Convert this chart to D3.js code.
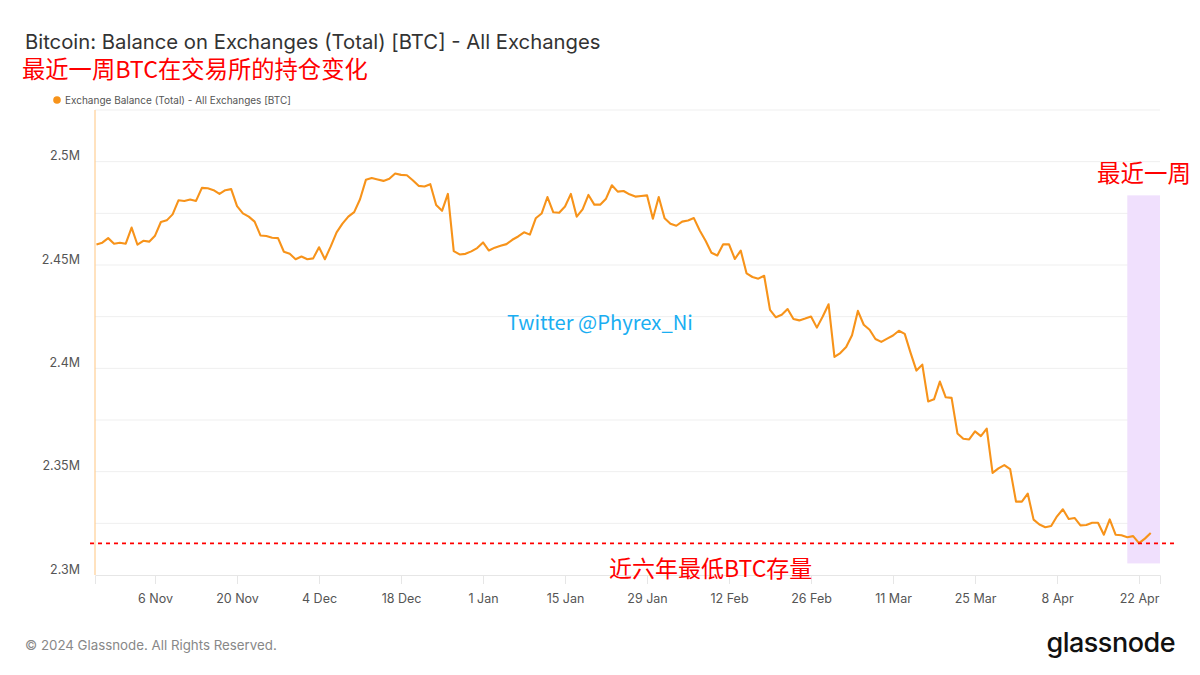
<!DOCTYPE html>
<html>
<head>
<meta charset="utf-8">
<script src="https://cdn.jsdelivr.net/npm/d3@7"></script>
<style>
  html, body { margin: 0; padding: 0; background: #fff; }
  svg { display: block; }
</style>
</head>
<body>
<svg id="chart" width="1200" height="675"></svg>
<script>
// ---------------- DATA ----------------
const START_DATE = "2023-10-27";           // first daily point
const END_DOMAIN = "2024-04-25T14:00:00Z"; // right edge of the time axis
const START_DOMAIN = "2023-10-26T18:00:00Z";
// Exchange balance (BTC), one value per day from START_DATE
const balance = [
  2459900, 2460800, 2463000, 2460300, 2460800, 2460300, 2468100, 2459800, 2461700, 2461300,
  2464200, 2470800, 2471600, 2474500, 2481300, 2481000, 2481700, 2481000, 2487300, 2487100,
  2486200, 2484400, 2486200, 2486700, 2478500, 2475000, 2473400, 2471000, 2464300, 2464000,
  2463200, 2463000, 2456400, 2455400, 2452800, 2454100, 2452800, 2453200, 2458600, 2452800,
  2459000, 2465800, 2470000, 2473400, 2475600, 2481800, 2491200, 2492100, 2491400, 2490700,
  2491700, 2494300, 2493600, 2493400, 2491000, 2488300, 2488000, 2489100, 2479000, 2476200,
  2484400, 2456700, 2455100, 2455400, 2456600, 2458200, 2460900, 2457000, 2458400, 2459300,
  2460100, 2462200, 2463800, 2465800, 2464700, 2472600, 2474900, 2482900, 2475500, 2475300,
  2478300, 2484400, 2473400, 2476900, 2483900, 2479200, 2479200, 2482100, 2488600, 2485500,
  2485800, 2484200, 2483100, 2483400, 2483700, 2472400, 2482900, 2472600, 2470000, 2469000,
  2471000, 2471500, 2472700, 2466700, 2461700, 2455900, 2454600, 2460000, 2460000, 2452900,
  2457000, 2445900, 2444200, 2443400, 2444800, 2428300, 2424700, 2425900, 2428700, 2423900,
  2423200, 2424100, 2425100, 2419700, 2425100, 2431000, 2405500, 2407400, 2410300, 2416000,
  2427800, 2421100, 2418700, 2414200, 2412800, 2414400, 2415900, 2418200, 2416700, 2407500,
  2398900, 2401800, 2384000, 2385000, 2393600, 2386000, 2385700, 2368500, 2365900, 2365600,
  2369500, 2367200, 2370800, 2349400, 2351600, 2353200, 2351200, 2335500, 2335500, 2339400,
  2326800, 2324400, 2323100, 2323700, 2328400, 2331800, 2327100, 2327600, 2324000, 2324200,
  2325300, 2325300, 2319500, 2326900, 2319500, 2319200, 2318300, 2318800, 2315400, 2317600,
  2320300
];
const xTickDates  = ["2023-11-06","2023-11-20","2023-12-04","2023-12-18","2024-01-01","2024-01-15",
                     "2024-01-29","2024-02-12","2024-02-26","2024-03-11","2024-03-25","2024-04-08","2024-04-22"];
const xTickLabels = ["6 Nov","20 Nov","4 Dec","18 Dec","1 Jan","15 Jan","29 Jan","12 Feb","26 Feb","11 Mar","25 Mar","8 Apr","22 Apr"];
const yTickValues = [2300000, 2350000, 2400000, 2450000, 2500000];
const yTickLabels = ["2.3M", "2.35M", "2.4M", "2.45M", "2.5M"];
const yGridValues = [2325000, 2350000, 2375000, 2400000, 2425000, 2450000, 2475000, 2500000, 2525000];
const Y_DOMAIN = [2300000, 2525000];
const LOW_LINE = 2315300;                          // "lowest in six years" level
const HIGHLIGHT = { start: "2024-04-20", end: END_DOMAIN, top: 2483700, bottom: 2305600 };

const TITLE = "Bitcoin: Balance on Exchanges (Total) [BTC] - All Exchanges";
const SUBTITLE = "最近一周BTC在交易所的持仓变化";
const LEGEND = "Exchange Balance (Total) - All Exchanges [BTC]";
const NOTE_WEEK = "最近一周";
const NOTE_LOW = "近六年最低BTC存量";
const WATERMARK = "Twitter @Phyrex_Ni";
const FOOTER = "© 2024 Glassnode. All Rights Reserved.";
const LOGO = "glassnode";

// ---------------- CHART ----------------
const parse = s => new Date(s.length === 10 ? s + "T00:00:00Z" : s);
const start = parse(START_DATE);
const series = balance.map((v, i) => ({ date: d3.utcDay.offset(start, i), value: v }));

const svg = d3.select("#chart");
const L = 95, R = 1160, T = 110, B = 575;
const sans = "Inter, 'Noto Sans', sans-serif";
const cjk = "'Noto Sans CJK SC', 'Noto Sans', sans-serif";

const x = d3.scaleUtc().domain([parse(START_DOMAIN), parse(END_DOMAIN)]).range([L, R]);
const y = d3.scaleLinear().domain(Y_DOMAIN).range([B, T]);

// gridlines
svg.append("g").selectAll("line").data(yGridValues).join("line")
  .attr("x1", L).attr("x2", R)
  .attr("y1", d => y(d)).attr("y2", d => y(d))
  .attr("stroke", "#efefef").attr("stroke-width", 1);

// x axis
const xAxis = d3.axisBottom(x)
  .tickValues(xTickDates.map(parse))
  .tickFormat((d, i) => xTickLabels[i])
  .tickSize(9).tickPadding(10);
const gx = svg.append("g").attr("transform", `translate(0,${B})`).call(xAxis);
gx.select(".domain").attr("stroke", "#e6e6e6");
gx.selectAll(".tick line").attr("stroke", "#e6e6e6");
gx.selectAll(".tick text").attr("fill", "#555").style("font-family", sans).style("font-size", "12.5px");

// y axis
const yAxis = d3.axisLeft(y)
  .tickValues(yTickValues)
  .tickFormat((d, i) => yTickLabels[i])
  .tickSize(0).tickPadding(15);
const gy = svg.append("g").attr("transform", `translate(${L},0)`).call(yAxis);
gy.select(".domain").remove();
gy.selectAll(".tick text").attr("fill", "#555").attr("dy", "-0.15em")
  .style("font-family", sans).style("font-size", "12.5px");

// left orange axis line
svg.append("line").attr("x1", L).attr("x2", L).attr("y1", T).attr("y2", B)
  .attr("stroke", "#ffcf94").attr("stroke-width", 1.2);

// highlight band
svg.append("rect")
  .attr("x", x(parse(HIGHLIGHT.start))).attr("width", x(parse(HIGHLIGHT.end)) - x(parse(HIGHLIGHT.start)))
  .attr("y", y(HIGHLIGHT.top)).attr("height", y(HIGHLIGHT.bottom) - y(HIGHLIGHT.top))
  .attr("fill", "#f0e0fd");

// line
const line = d3.line().x(d => x(d.date)).y(d => y(d.value));
svg.append("path").datum(series)
  .attr("fill", "none").attr("stroke", "#f7931a").attr("stroke-width", 2.1)
  .attr("stroke-linejoin", "round").attr("d", line);

// low level dashed line
svg.append("line").attr("x1", L - 5).attr("x2", R + 15)
  .attr("y1", y(LOW_LINE)).attr("y2", y(LOW_LINE))
  .attr("stroke", "#ff0000").attr("stroke-width", 1.6).attr("stroke-dasharray", "4,4");

// titles
svg.append("text").attr("x", 25).attr("y", 49).text(TITLE)
  .attr("fill", "#333").style("font-family", sans).style("font-size", "20.3px");
svg.append("text").attr("x", 22).attr("y", 78).text(SUBTITLE)
  .attr("fill", "#ff0000").style("font-family", cjk).style("font-size", "23.3px");

// legend
svg.append("circle").attr("cx", 57).attr("cy", 100).attr("r", 3.8).attr("fill", "#f7931a");
svg.append("text").attr("x", 65).attr("y", 103.5).text(LEGEND)
  .attr("fill", "#555").style("font-family", sans).style("font-size", "10px");

// annotations
svg.append("text").attr("x", 1097).attr("y", 182).text(NOTE_WEEK)
  .attr("fill", "#ff0000").style("font-family", cjk).style("font-size", "23.5px");
svg.append("text").attr("x", 609).attr("y", 577).text(NOTE_LOW)
  .attr("fill", "#ff0000").style("font-family", cjk).style("font-size", "23px");
svg.append("text").attr("x", 507).attr("y", 330).text(WATERMARK)
  .attr("fill", "#1aaef2").style("font-family", cjk).style("font-size", "20.2px");

// footer
svg.append("text").attr("x", 25).attr("y", 650).text(FOOTER)
  .attr("fill", "#888").style("font-family", sans).style("font-size", "13.3px");
svg.append("text").attr("x", 1175).attr("y", 652).attr("text-anchor", "end").text(LOGO)
  .attr("fill", "#111").style("font-family", sans).style("font-size", "27px").style("font-weight", 500)
  .style("letter-spacing", "-0.5px");
</script>
</body>
</html>
